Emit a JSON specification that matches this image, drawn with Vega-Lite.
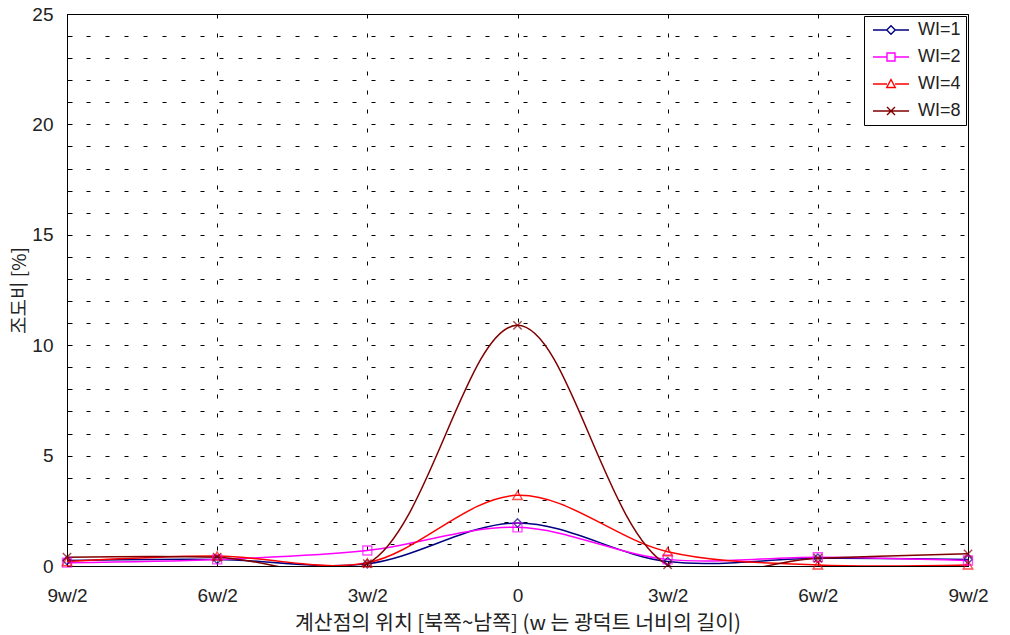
{
  "$schema": "https://vega.github.io/schema/vega-lite/v6.json",
  "width": 901,
  "height": 552,
  "autosize": "none",
  "padding": {"left": 67, "top": 14, "right": 42, "bottom": 69},
  "background": "white",
  "config": {
    "view": {"stroke": "black", "strokeWidth": 1},
    "font": "Liberation Sans"
  },
  "data": {
    "values": [
      {"pos": -3, "series": "WI=1", "value": 0.25},
      {"pos": -2, "series": "WI=1", "value": 0.3},
      {"pos": -1, "series": "WI=1", "value": 0.1},
      {"pos": 0, "series": "WI=1", "value": 1.95},
      {"pos": 1, "series": "WI=1", "value": 0.2},
      {"pos": 2, "series": "WI=1", "value": 0.35},
      {"pos": 3, "series": "WI=1", "value": 0.3},
      {"pos": -3, "series": "WI=2", "value": 0.15},
      {"pos": -2, "series": "WI=2", "value": 0.3},
      {"pos": -1, "series": "WI=2", "value": 0.7},
      {"pos": 0, "series": "WI=2", "value": 1.75},
      {"pos": 1, "series": "WI=2", "value": 0.3},
      {"pos": 2, "series": "WI=2", "value": 0.4},
      {"pos": 3, "series": "WI=2", "value": 0.25},
      {"pos": -3, "series": "WI=4", "value": 0.2},
      {"pos": -2, "series": "WI=4", "value": 0.45},
      {"pos": -1, "series": "WI=4", "value": 0.15},
      {"pos": 0, "series": "WI=4", "value": 3.2},
      {"pos": 1, "series": "WI=4", "value": 0.65},
      {"pos": 2, "series": "WI=4", "value": 0.05},
      {"pos": 3, "series": "WI=4", "value": 0.05},
      {"pos": -3, "series": "WI=8", "value": 0.4},
      {"pos": -2, "series": "WI=8", "value": 0.4},
      {"pos": -1, "series": "WI=8", "value": 0.1},
      {"pos": 0, "series": "WI=8", "value": 10.9},
      {"pos": 1, "series": "WI=8", "value": 0.05},
      {"pos": 2, "series": "WI=8", "value": 0.35},
      {"pos": 3, "series": "WI=8", "value": 0.55}
    ]
  },
  "encoding": {
    "x": {
      "field": "pos",
      "type": "quantitative",
      "scale": {"domain": [-3, 3], "nice": false, "zero": false},
      "axis": {
        "values": [-3, -2, -1, 0, 1, 2, 3],
        "labelExpr": "datum.value == 0 ? '0' : (abs(datum.value) * 3) + 'w/2'",
        "title": "계산점의 위치 [북쪽~남쪽] (w 는 광덕트 너비의 길이)",
        "titleFont": "Noto Sans CJK KR",
        "titleFontSize": 20.5,
        "titleFontWeight": "normal",
        "titleColor": "#222222",
        "titlePadding": 8,
        "labelFont": "Liberation Sans",
        "labelFontSize": 19,
        "labelColor": "#222222",
        "labelPadding": 25,
        "labelFlush": false,
        "grid": true,
        "gridColor": "black",
        "gridDash": [4, 15],
        "gridWidth": 1,
        "domainColor": "black",
        "ticks": true,
        "tickSize": -5,
        "tickColor": "black"
      }
    },
    "y": {
      "field": "value",
      "type": "quantitative",
      "scale": {"domain": [0, 25], "nice": false},
      "axis": {
        "values": [0, 1, 2, 3, 4, 5, 6, 7, 8, 9, 10, 11, 12, 13, 14, 15, 16, 17, 18, 19, 20, 21, 22, 23, 24, 25],
        "labelExpr": "datum.value % 5 == 0 ? datum.label : ''",
        "title": "조도비 [%]",
        "titleFont": "Noto Sans CJK KR",
        "titleFontSize": 19,
        "titleFontWeight": "normal",
        "titleColor": "#222222",
        "titlePadding": 2,
        "labelFont": "Liberation Sans",
        "labelFontSize": 19,
        "labelColor": "#222222",
        "labelPadding": 19,
        "grid": true,
        "gridColor": "black",
        "gridDash": [4, 15],
        "gridWidth": 1,
        "domainColor": "black",
        "ticks": true,
        "tickSize": -5,
        "tickColor": "black"
      }
    }
  },
  "layer": [
    {
      "transform": [{"filter": "datum.series == 'WI=1'"}],
      "mark": {"type": "line", "interpolate": "catmull-rom", "strokeWidth": 1.5, "color": "#000080", "clip": true},
      "encoding": {}
    },
    {
      "transform": [{"filter": "datum.series == 'WI=2'"}],
      "mark": {"type": "line", "interpolate": "catmull-rom", "strokeWidth": 1.5, "color": "#ff00ff", "clip": true},
      "encoding": {}
    },
    {
      "transform": [{"filter": "datum.series == 'WI=4'"}],
      "mark": {"type": "line", "interpolate": "catmull-rom", "strokeWidth": 1.5, "color": "#ff0000", "clip": true},
      "encoding": {}
    },
    {
      "transform": [{"filter": "datum.series == 'WI=8'"}],
      "mark": {"type": "line", "interpolate": "catmull-rom", "strokeWidth": 1.5, "color": "#800000", "clip": true},
      "encoding": {}
    },
    {
      "transform": [{"filter": "datum.series == 'WI=1'"}],
      "mark": {"type": "point", "shape": "diamond", "size": 70, "filled": false, "strokeWidth": 1.4, "color": "#000080"},
      "encoding": {}
    },
    {
      "transform": [{"filter": "datum.series == 'WI=2'"}],
      "mark": {"type": "point", "shape": "square", "size": 80, "filled": false, "strokeWidth": 1.4, "color": "#ff00ff"},
      "encoding": {}
    },
    {
      "transform": [{"filter": "datum.series == 'WI=4'"}],
      "mark": {"type": "point", "shape": "triangle-up", "size": 90, "filled": false, "strokeWidth": 1.4, "color": "#ff0000"},
      "encoding": {}
    },
    {
      "transform": [{"filter": "datum.series == 'WI=8'"}],
      "mark": {"type": "point", "shape": "M-1,-1L1,1M-1,1L1,-1", "size": 70, "filled": false, "strokeWidth": 1.4, "color": "#800000"},
      "encoding": {}
    },
    {
      "mark": {"type": "point", "filled": false, "strokeWidth": 1.3, "opacity": 0},
      "encoding": {
        "color": {
          "field": "series",
          "type": "nominal",
          "scale": {"domain": ["WI=1", "WI=2", "WI=4", "WI=8"], "range": ["#000080", "#ff00ff", "#ff0000", "#800000"]},
          "legend": {
            "title": null,
            "orient": "top-right",
            "offset": 2,
            "fillColor": "white",
            "strokeColor": "black",
            "padding": 5,
            "symbolSize": 100,
            "symbolOpacity": 1,
            "symbolStrokeWidth": 1.4,
            "symbolOffset": 13,
            "labelOffset": 18,
            "labelFont": "Liberation Sans",
            "labelFontSize": 18,
            "labelColor": "#222222",
            "rowPadding": 9
          }
        },
        "shape": {
          "field": "series",
          "type": "nominal",
          "scale": {
            "domain": ["WI=1", "WI=2", "WI=4", "WI=8"],
            "range": [
              "M-3.6,0L-0.85,0M0.85,0L3.6,0M0,-0.85L0.85,0L0,0.85L-0.85,0Z",
              "M-3.6,0L-0.8,0M0.8,0L3.6,0M-0.8,-0.8L0.8,-0.8L0.8,0.8L-0.8,0.8Z",
              "M-3.6,0L-0.8,0M0.8,0L3.6,0M0,-0.9L0.85,0.7L-0.85,0.7Z",
              "M-3.6,0L3.6,0M-0.8,-0.8L0.8,0.8M-0.8,0.8L0.8,-0.8"
            ]
          },
          "legend": {
            "title": null,
            "orient": "top-right",
            "offset": 2,
            "fillColor": "white",
            "strokeColor": "black",
            "padding": 5,
            "symbolSize": 100,
            "symbolOpacity": 1,
            "symbolStrokeWidth": 1.4,
            "symbolOffset": 13,
            "labelOffset": 18,
            "labelFont": "Liberation Sans",
            "labelFontSize": 18,
            "labelColor": "#222222",
            "rowPadding": 9
          }
        }
      }
    }
  ]
}
